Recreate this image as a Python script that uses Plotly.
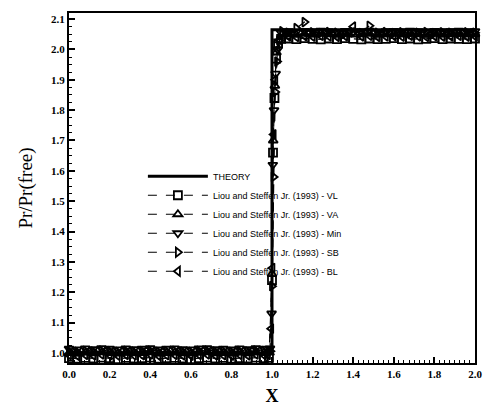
import plotly.graph_objects as go

# Theory: step from free-stream value to the post-shock plateau at X = 1
THEORY_X = [0.0, 1.0, 1.0, 2.0]
THEORY_Y = [1.0, 1.0, 2.065, 2.065]

# Shared sample locations upstream / downstream of the jump
X_LOW = [0.00, 0.04, 0.08, 0.12, 0.16, 0.20, 0.24, 0.28, 0.32, 0.36,
         0.40, 0.44, 0.48, 0.52, 0.56, 0.60, 0.64, 0.68, 0.72, 0.76,
         0.80, 0.84, 0.88, 0.92, 0.96]
X_HIGH = [1.08, 1.12, 1.16, 1.20, 1.24, 1.28, 1.32, 1.36, 1.40, 1.44,
          1.48, 1.52, 1.56, 1.60, 1.64, 1.68, 1.72, 1.76, 1.80, 1.84,
          1.88, 1.92, 1.96, 2.00]

# Liou and Steffen Jr. (1993) - VL
VL_LOW = [0.983, 0.981, 0.984, 0.982, 0.985, 0.983, 0.980, 0.984, 0.982, 0.983,
          0.985, 0.981, 0.983, 0.984, 0.982, 0.980, 0.983, 0.985, 0.982, 0.984,
          0.981, 0.983, 0.982, 0.985, 0.983]
VL_JX = [0.985, 1.000, 1.005, 1.012, 1.020, 1.030, 1.045]
VL_JY = [0.984, 1.24, 1.66, 1.84, 1.97, 2.02, 2.035]
VL_HIGH = [2.036, 2.034, 2.037, 2.035, 2.033, 2.036, 2.034, 2.037, 2.035, 2.033,
           2.036, 2.034, 2.035, 2.037, 2.034, 2.036, 2.033, 2.035, 2.037, 2.034,
           2.036, 2.035, 2.034, 2.036]

# Liou and Steffen Jr. (1993) - VA
VA_LOW = [1.000, 0.998, 1.001, 0.999, 1.002, 1.000, 0.998, 1.001, 0.999, 1.000,
          1.002, 0.998, 1.000, 1.001, 0.999, 0.998, 1.001, 1.002, 0.999, 1.000,
          0.998, 1.001, 0.999, 1.002, 1.000]
VA_JX = [0.988, 1.000, 1.006, 1.014, 1.022, 1.032, 1.048]
VA_JY = [1.001, 1.26, 1.70, 1.88, 1.99, 2.03, 2.048]
VA_HIGH = [2.050, 2.048, 2.051, 2.049, 2.052, 2.050, 2.048, 2.051, 2.049, 2.050,
           2.052, 2.048, 2.050, 2.051, 2.049, 2.052, 2.050, 2.048, 2.051, 2.049,
           2.050, 2.052, 2.049, 2.050]

# Liou and Steffen Jr. (1993) - Min
MIN_LOW = [1.014, 1.012, 1.015, 1.013, 1.016, 1.014, 1.012, 1.015, 1.013, 1.014,
           1.016, 1.012, 1.014, 1.015, 1.013, 1.012, 1.015, 1.016, 1.013, 1.014,
           1.012, 1.015, 1.013, 1.016, 1.014]
MIN_JX = [0.990, 0.998, 1.004, 1.010, 1.018, 1.028, 1.045]
MIN_JY = [1.015, 1.13, 1.62, 1.80, 1.92, 2.00, 2.055]
MIN_HIGH = [2.060, 2.058, 2.061, 2.059, 2.062, 2.060, 2.058, 2.061, 2.059, 2.060,
            2.062, 2.058, 2.060, 2.061, 2.059, 2.062, 2.060, 2.058, 2.061, 2.059,
            2.060, 2.062, 2.059, 2.060]

# Liou and Steffen Jr. (1993) - SB
SB_LOW = [1.006, 1.004, 1.007, 1.005, 1.008, 1.006, 1.004, 1.007, 1.005, 1.006,
          1.008, 1.004, 1.006, 1.007, 1.005, 1.004, 1.007, 1.008, 1.005, 1.006,
          1.004, 1.007, 1.005, 1.008, 1.006]
SB_JX = [0.992, 1.000, 1.008, 1.016, 1.025, 1.035, 1.050]
SB_JY = [1.006, 1.22, 1.58, 1.86, 1.96, 2.03, 2.06]
SB_HIGH = [2.055, 2.070, 2.090, 2.056, 2.054, 2.057, 2.055, 2.053, 2.056, 2.054,
           2.078, 2.055, 2.057, 2.054, 2.056, 2.053, 2.055, 2.057, 2.054, 2.056,
           2.055, 2.053, 2.056, 2.055]

# Liou and Steffen Jr. (1993) - BL
BL_LOW = [0.993, 0.991, 0.994, 0.992, 0.995, 0.993, 0.991, 0.994, 0.992, 0.993,
          0.995, 0.991, 0.993, 0.994, 0.992, 0.991, 0.994, 0.995, 0.992, 0.993,
          0.991, 0.994, 0.992, 0.995, 0.993]
BL_JX = [0.980, 0.996, 1.002, 1.008, 1.016, 1.026, 1.040]
BL_JY = [0.994, 1.08, 1.28, 1.72, 1.90, 2.00, 2.030]
BL_HIGH = [2.043, 2.041, 2.044, 2.042, 2.045, 2.043, 2.041, 2.044, 2.075, 2.043,
           2.045, 2.041, 2.043, 2.044, 2.042, 2.045, 2.043, 2.041, 2.044, 2.042,
           2.043, 2.045, 2.042, 2.043]

LABEL = "Liou and Steffen Jr. (1993) - "
SERIES = [
    ("VL", "square-open", VL_LOW, VL_JX, VL_JY, VL_HIGH),
    ("VA", "triangle-up-open", VA_LOW, VA_JX, VA_JY, VA_HIGH),
    ("Min", "triangle-down-open", MIN_LOW, MIN_JX, MIN_JY, MIN_HIGH),
    ("SB", "triangle-right-open", SB_LOW, SB_JX, SB_JY, SB_HIGH),
    ("BL", "triangle-left-open", BL_LOW, BL_JX, BL_JY, BL_HIGH),
]

fig = go.Figure()

fig.add_trace(go.Scatter(
    x=THEORY_X, y=THEORY_Y, mode="lines", name="THEORY",
    line=dict(color="black", width=3), cliponaxis=False,
))

for tag, symbol, low, jx, jy, high in SERIES:
    fig.add_trace(go.Scatter(
        x=X_LOW + jx + X_HIGH,
        y=low + jy + high,
        mode="lines+markers",
        name=LABEL + tag,
        line=dict(color="black", width=1.2, dash="dash"),
        marker=dict(symbol=symbol, size=8, color="black",
                    line=dict(color="black", width=1.8)),
        cliponaxis=False,
    ))

tick_font = dict(family="Liberation Serif", size=11, color="black", weight="bold")

fig.update_layout(
    width=483, height=408,
    margin=dict(l=69, r=8, t=13, b=45, autoexpand=False),
    paper_bgcolor="white", plot_bgcolor="white",
    showlegend=True,
    legend=dict(
        x=0.182, y=0.575, xanchor="left", yanchor="top",
        bgcolor="rgba(0,0,0,0)", borderwidth=0,
        font=dict(family="Liberation Sans", size=9, color="black"),
        itemwidth=60, tracegroupgap=0,
    ),
)

fig.update_xaxes(
    range=[0, 2], dtick=0.2, tick0=0, tickformat=".1f", automargin=False,
    ticks="inside", ticklen=6, tickwidth=1.5, tickcolor="black",
    minor=dict(dtick=0.025, ticks="inside", ticklen=3, tickcolor="black", tickwidth=1),
    showline=True, linecolor="black", linewidth=2, mirror=True,
    showgrid=False, zeroline=False,
    tickfont=tick_font,
    title=dict(text="X", font=dict(family="Liberation Serif", size=18, color="black", weight="bold"),
               standoff=10),
)
fig.update_yaxes(
    range=[0.967, 2.12], dtick=0.1, tick0=1.0, tickformat=".1f", automargin=False,
    ticks="inside", ticklen=6, tickwidth=1.5, tickcolor="black",
    minor=dict(dtick=0.025, ticks="inside", ticklen=3, tickcolor="black", tickwidth=1),
    showline=True, linecolor="black", linewidth=2, mirror=True,
    showgrid=False, zeroline=False,
    tickfont=tick_font,
    title=dict(text="Pr/Pr(free)", font=dict(family="Liberation Serif", size=19, color="black"),
               standoff=13),
)

fig.write_html("out.html")
